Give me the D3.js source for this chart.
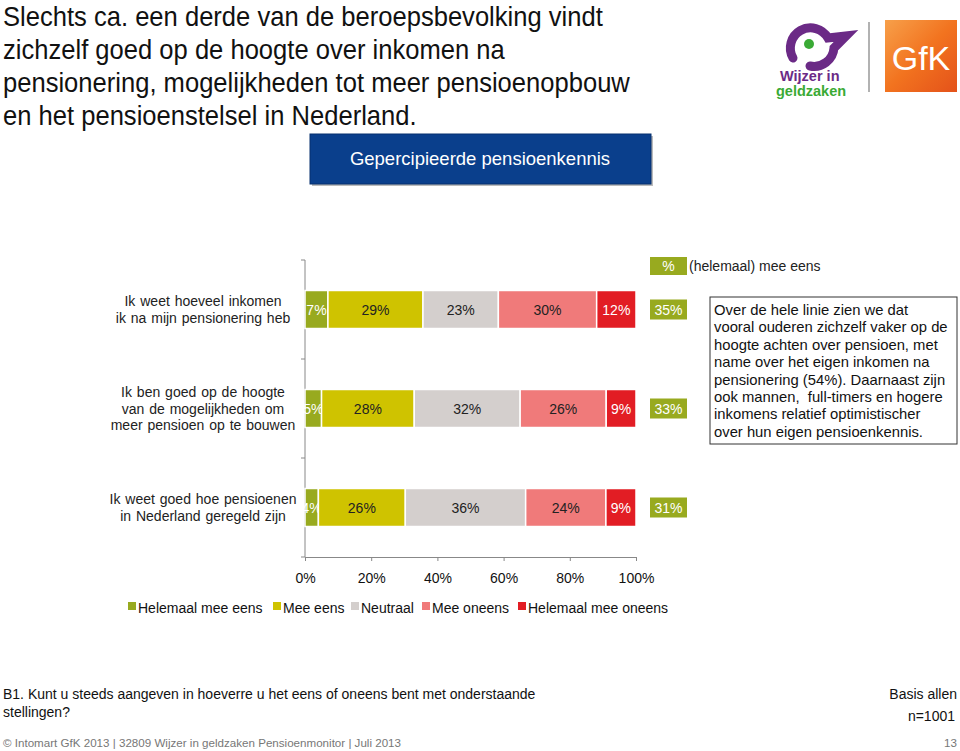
<!DOCTYPE html>
<html>
<head>
<meta charset="utf-8">
<script src="https://cdn.jsdelivr.net/npm/d3@7"></script>
<style>
  body { margin: 0; background: #fff; }
  svg { display: block; font-family: "Liberation Sans", Arial, sans-serif; }
</style>
</head>
<body>
<svg id="chart" width="960" height="751"></svg>
<script>
/* data */
const categories = [
  ["Ik weet hoeveel inkomen", "ik na mijn pensionering heb"],
  ["Ik ben goed op de hoogte", "van de mogelijkheden om", "meer pensioen op te bouwen"],
  ["Ik weet goed hoe pensioenen", "in Nederland geregeld zijn"]
];
const seriesNames = ["Helemaal mee eens", "Mee eens", "Neutraal", "Mee oneens", "Helemaal mee oneens"];
const helemaalMeeEens = [7, 5, 4];
const meeEens = [29, 28, 26];
const neutraal = [23, 32, 36];
const meeOneens = [30, 26, 24];
const helemaalMeeOneens = [12, 9, 9];
const totaalEens = [35, 33, 31];
const tickValues = [0, 20, 40, 60, 80, 100];

const colors = ["#98aa1f", "#cfc300", "#d4cfcd", "#f07a7a", "#e21d24"];
const labelColors = ["#fff", "#222", "#222", "#222", "#fff"];

const svg = d3.select("#chart");

// tabel voor d3.stack
const rows = categories.map((c, i) => ({
  key: i,
  "Helemaal mee eens": helemaalMeeEens[i],
  "Mee eens": meeEens[i],
  "Neutraal": neutraal[i],
  "Mee oneens": meeOneens[i],
  "Helemaal mee oneens": helemaalMeeOneens[i]
}));
const stacked = d3.stack().keys(seriesNames).offset(d3.stackOffsetExpand)(rows);

const x = d3.scaleLinear().domain([0, 1]).range([305, 636]);
const y = d3.scaleBand().domain(rows.map(d => d.key)).range([260, 557])
  .paddingInner(0.616).paddingOuter(0.308);

// titel
const title = ["Slechts ca. een derde van de beroepsbevolking vindt",
  "zichzelf goed op de hoogte over inkomen na",
  "pensionering, mogelijkheden tot meer pensioenopbouw",
  "en het pensioenstelsel in Nederland."];
svg.append("g").attr("transform", "translate(3,0) scale(0.93,1)")
  .selectAll("text").data(title).enter()
  .append("text")
  .attr("x", 0).attr("y", (d, i) => 26 + i * 33)
  .style("font-size", "27.5px").attr("fill", "#111")
  .text(d => d);

// logo's
const logo = svg.append("g");
logo.append("path")
  .attr("d", "M793,58 A20,20 0 1,1 828,38 L846,36 L834,48 A20,20 0 0,1 810,66")
  .attr("fill", "none").attr("stroke", "#6b2a86").attr("stroke-width", 9).attr("stroke-linecap", "round");
logo.append("circle").attr("cx", 809).attr("cy", 44).attr("r", 5).attr("fill", "#3aaa35");
logo.append("text").attr("x", 780).attr("y", 81).style("font-size", "14.5px").style("font-weight", "bold")
  .attr("fill", "#6b2a86").text("Wijzer in");
logo.append("text").attr("x", 776).attr("y", 96).style("font-size", "14.5px").style("font-weight", "bold")
  .attr("fill", "#3aaa35").text("geldzaken");
logo.append("line").attr("x1", 869).attr("x2", 869).attr("y1", 22).attr("y2", 92)
  .attr("stroke", "#999").attr("stroke-width", 1.5);
const grad = svg.append("defs").append("linearGradient").attr("id", "gfk")
  .attr("x1", "0").attr("y1", "0").attr("x2", "1").attr("y2", "1");
grad.append("stop").attr("offset", "0").attr("stop-color", "#f7a04a");
grad.append("stop").attr("offset", "0.5").attr("stop-color", "#f2731f");
grad.append("stop").attr("offset", "1").attr("stop-color", "#e4521a");
logo.append("rect").attr("x", 885).attr("y", 20).attr("width", 72).attr("height", 72).attr("fill", "url(#gfk)");
logo.append("text").attr("x", 921).attr("y", 70).attr("text-anchor", "middle")
  .style("font-size", "34px").attr("fill", "#fff").text("GfK");

// kop
svg.append("rect").attr("x", 312).attr("y", 136).attr("width", 341).attr("height", 50).attr("fill", "#bbb");
svg.append("rect").attr("x", 310).attr("y", 134).attr("width", 341).attr("height", 50)
  .attr("fill", "#0a3f8c").attr("stroke", "#06306e");
svg.append("text").attr("x", 480).attr("y", 165).attr("text-anchor", "middle")
  .style("font-size", "18.5px").attr("fill", "#fff").text("Gepercipieerde pensioenkennis");

// assen
const xAxis = svg.append("g").attr("transform", "translate(0,557)")
  .call(d3.axisBottom(x).tickValues(tickValues.map(d => d / 100)).tickFormat(d => d3.format(".0%")(d))
    .tickSize(4).tickSizeOuter(0).tickPadding(12));
xAxis.select(".domain").attr("stroke", "#888");
xAxis.selectAll(".tick line").attr("stroke", "#888");
xAxis.selectAll(".tick text").style("font-size", "14px").attr("fill", "#111").style("font-family", "Liberation Sans, Arial");

const yAxis = svg.append("g");
yAxis.append("line").attr("x1", 305).attr("x2", 305).attr("y1", y.range()[0]).attr("y2", y.range()[1]).attr("stroke", "#888");
yAxis.selectAll("line.t").data(d3.range(rows.length + 1)).enter()
  .append("line").attr("class", "t")
  .attr("x1", 301).attr("x2", 305)
  .attr("y1", i => y.range()[0] + i * y.step()).attr("y2", i => y.range()[0] + i * y.step())
  .attr("stroke", "#888");

// categorie labels
const lineH = 16.5;
svg.append("g").selectAll("text").data(categories).enter()
  .append("text")
  .attr("text-anchor", "middle")
  .style("font-size", "14px").style("word-spacing", "1px").attr("fill", "#222")
  .each(function(lines, i) {
    const cy = y(i) + y.bandwidth() / 2;
    const t0 = cy - (lines.length - 1) * lineH / 2 + 5;
    d3.select(this).selectAll("tspan").data(lines).enter()
      .append("tspan").attr("x", 203).attr("y", (d, j) => t0 + j * lineH).text(d => d);
  });

// balken
const layer = svg.append("g").selectAll("g").data(stacked).enter()
  .append("g").attr("fill", (d, i) => colors[i]);
layer.selectAll("rect").data(d => d).enter()
  .append("rect")
  .attr("x", d => x(d[0]))
  .attr("y", d => y(d.data.key))
  .attr("width", d => x(d[1]) - x(d[0]))
  .attr("height", y.bandwidth())
  .attr("stroke", "#fff").attr("stroke-width", 1.5);
layer.selectAll("text").data((d, i) => d.map(p => ({ p: p, s: i, v: p.data[d.key] }))).enter()
  .append("text")
  .attr("x", d => (x(d.p[0]) + x(d.p[1])) / 2)
  .attr("y", d => y(d.p.data.key) + y.bandwidth() / 2 + 5)
  .attr("text-anchor", "middle")
  .style("font-size", "14px")
  .attr("fill", d => labelColors[d.s])
  .text(d => d.v + "%");

// totaal (helemaal) mee eens
const tot = svg.append("g");
tot.selectAll("rect").data(totaalEens).enter()
  .append("rect")
  .attr("x", 650).attr("width", 37)
  .attr("y", (d, i) => y(i) + y.bandwidth() / 2 - 10).attr("height", 20)
  .attr("fill", colors[0]);
tot.selectAll("text").data(totaalEens).enter()
  .append("text")
  .attr("x", 668.5).attr("y", (d, i) => y(i) + y.bandwidth() / 2 + 5)
  .attr("text-anchor", "middle").style("font-size", "14px").attr("fill", "#fff")
  .text(d => d + "%");
tot.append("rect").attr("x", 650).attr("y", 257).attr("width", 37).attr("height", 18).attr("fill", colors[0]);
tot.append("text").attr("x", 668.5).attr("y", 271).attr("text-anchor", "middle")
  .style("font-size", "14px").attr("fill", "#fff").text("%");
tot.append("text").attr("x", 689).attr("y", 271)
  .style("font-size", "14px").attr("fill", "#222").text("(helemaal) mee eens");

// legenda
const legendX = [128, 273, 351, 422, 518];
const legend = svg.append("g").selectAll("g").data(seriesNames).enter()
  .append("g").attr("transform", (d, i) => `translate(${legendX[i]},608)`);
legend.append("rect").attr("x", 0).attr("y", -6).attr("width", 8).attr("height", 8)
  .attr("fill", (d, i) => colors[i]);
legend.append("text").attr("x", 10).attr("y", 5)
  .style("font-size", "14px").attr("fill", "#111").text(d => d);

// tekstvak
svg.append("rect").attr("x", 710).attr("y", 297).attr("width", 247).attr("height", 147)
  .attr("fill", "#fff").attr("stroke", "#333");
const note = ["Over de hele linie zien we dat", "vooral ouderen zichzelf vaker op de",
  "hoogte achten over pensioen, met", "name over het eigen inkomen na",
  "pensionering (54%). Daarnaast zijn", "ook mannen,  full-timers en hogere",
  "inkomens relatief optimistischer", "over hun eigen pensioenkennis."];
svg.append("g").selectAll("text").data(note).enter()
  .append("text").attr("x", 714).attr("y", (d, i) => 315 + i * 17.4)
  .style("font-size", "14.8px").attr("fill", "#111").style("white-space", "pre").text(d => d);

// voetnoten
const foot = svg.append("g");
foot.append("text").attr("x", 3).attr("y", 699).style("font-size", "14px").attr("fill", "#111")
  .text("B1. Kunt u steeds aangeven in hoeverre u het eens of oneens bent met onderstaande");
foot.append("text").attr("x", 3).attr("y", 717).style("font-size", "14px").attr("fill", "#111")
  .text("stellingen?");
foot.append("text").attr("x", 957).attr("y", 699).attr("text-anchor", "end").style("font-size", "14px")
  .attr("fill", "#111").text("Basis allen");
foot.append("text").attr("x", 955).attr("y", 721).attr("text-anchor", "end").style("font-size", "14px")
  .attr("fill", "#111").text("n=1001");
foot.append("text").attr("x", 3).attr("y", 747).style("font-size", "11.6px").attr("fill", "#777")
  .text("© Intomart GfK 2013 | 32809 Wijzer in geldzaken Pensioenmonitor  | Juli 2013");
foot.append("text").attr("x", 957).attr("y", 747).attr("text-anchor", "end").style("font-size", "11.6px")
  .attr("fill", "#777").text("13");
</script>
</body>
</html>
